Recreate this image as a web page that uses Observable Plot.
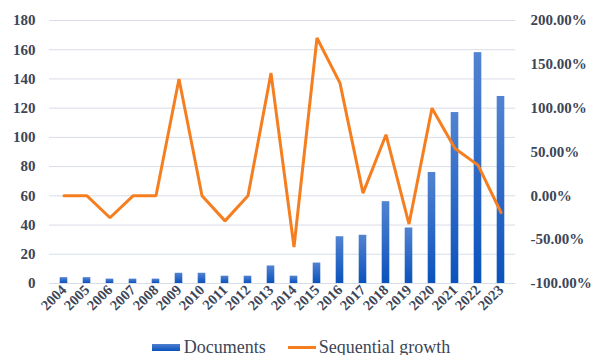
<!DOCTYPE html>
<html>
<head>
<meta charset="utf-8">
<script src="https://cdn.jsdelivr.net/npm/d3@7"></script>
<script src="https://cdn.jsdelivr.net/npm/@observablehq/plot@0.6"></script>
<style>
  html, body { margin: 0; padding: 0; background: #fff; overflow: hidden; }
  #chart svg, #chart svg text { font-family: "Liberation Serif", "Tinos", "DejaVu Serif", "Times New Roman", Times, serif !important; }
  #legend { display: flex; justify-content: center; align-items: center; height: 22px; margin-top: 6px;
    font-family: "Liberation Serif", "Tinos", "DejaVu Serif", "Times New Roman", Times, serif; font-size: 18px; color: #3c4658; }
  .item { display: flex; align-items: center; }
  .sw-bar { width: 28px; height: 7px; background: linear-gradient(#4f7fcf, #0a52bc); margin-right: 4px; margin-left: 8px; }
  .sw-line { width: 28px; height: 3px; background: #f57f20; margin-right: 3px; margin-left: 22px; }
</style>
</head>
<body>
<div id="chart"></div>
<div id="legend">
  <div class="item"><div class="sw-bar"></div><span>Documents</span></div>
  <div class="item"><div class="sw-line"></div><span>Sequential growth</span></div>
</div>
<script>
const years = ["2004","2005","2006","2007","2008","2009","2010","2011","2012","2013","2014","2015","2016","2017","2018","2019","2020","2021","2022","2023"];
const documents = [4,4,3,3,3,7,7,5,5,12,5,14,32,33,56,38,76,117,158,128];
const growth = [0,0,-25,0,0,133.33,0,-28.57,0,140,-58.33,180,128.57,3.13,69.70,-32.14,100,53.95,35.04,-18.99];
const leftTicks = [0,20,40,60,80,100,120,140,160,180];
const rightTicks = [-100,-50,0,50,100,150,200];

// map right-axis percent onto left scale: -100% -> 0, 200% -> 180
const toLeft = g => (g + 100) * 0.6;

const rows = years.map((y, i) => ({year: y, docs: documents[i], g: toLeft(growth[i])}));

const textColor = "#3c4658";
const serif = "Liberation Serif, Tinos, DejaVu Serif, serif";

const chart = Plot.plot({
  width: 594,
  height: 330,
  marginLeft: 49,
  marginRight: 79,
  marginTop: 20,
  marginBottom: 47,
  x: {type: "band", domain: years, padding: 0},
  y: {domain: [0, 180]},
  marks: [
    Plot.ruleY(leftTicks, {stroke: "#d9dde8", strokeWidth: 1}),
    Plot.barY(rows, {x: "year", y: "docs", fill: "url(#docGrad)", insetLeft: 7.7, insetRight: 7.7}),
    Plot.line(rows, {x: "year", y: "g", stroke: "#f57f20", strokeWidth: 3, strokeLinejoin: "miter"}),
    Plot.axisY({ticks: leftTicks, tickSize: 0, tickPadding: 14, fontSize: 15, fontWeight: "bold",
      fill: textColor, label: null}),
    Plot.axisY({anchor: "right", ticks: rightTicks.map(toLeft), tickSize: 0, tickPadding: 15,
      tickFormat: v => (v / 0.6 - 100).toFixed(2) + "%", fontSize: 15, fontWeight: "bold",
      fill: textColor, label: null}),
    Plot.axisX({tickSize: 0, tickPadding: 4, tickRotate: -45, fontSize: 14.5, fontWeight: "bold",
      fill: textColor, label: null})
  ]
});

const ns = "http://www.w3.org/2000/svg";
const defs = document.createElementNS(ns, "defs");
const grad = document.createElementNS(ns, "linearGradient");
grad.setAttribute("id", "docGrad");
grad.setAttribute("x1", "0"); grad.setAttribute("y1", "0");
grad.setAttribute("x2", "0"); grad.setAttribute("y2", "1");
[["0%", "#5283d2"], ["100%", "#0a52bc"]].forEach(([o, c]) => {
  const s = document.createElementNS(ns, "stop");
  s.setAttribute("offset", o); s.setAttribute("stop-color", c);
  grad.appendChild(s);
});
defs.appendChild(grad);
chart.insertBefore(defs, chart.firstChild);
chart.querySelectorAll("text").forEach(t => t.style.fontFamily = serif);

document.getElementById("chart").appendChild(chart);
</script>
</body>
</html>
